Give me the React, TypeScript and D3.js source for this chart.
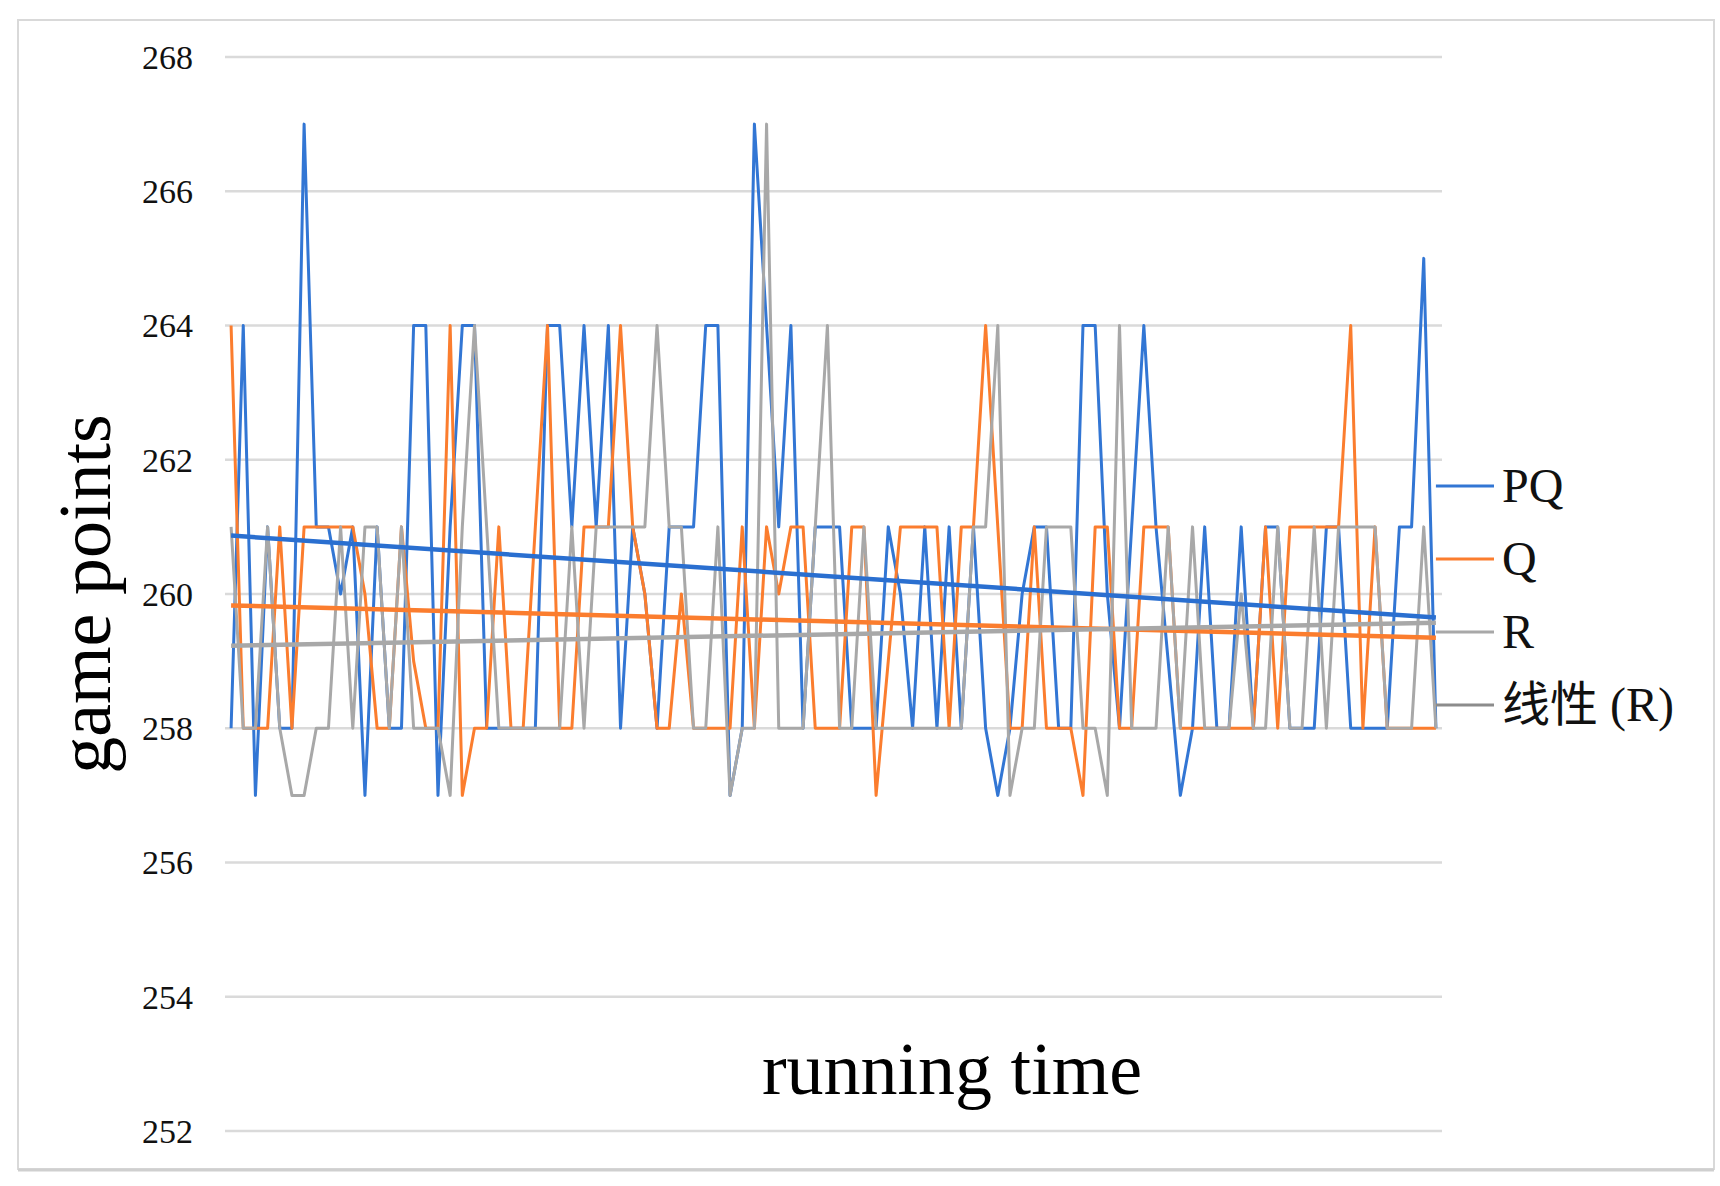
import { useEffect, useRef } from "react";
import * as d3 from "d3";

const yTicks = [252, 254, 256, 258, 260, 262, 264, 266, 268];

const pqValues = [
  258, 264, 257, 261, 258, 258, 267, 261, 261, 260,
  261, 257, 261, 258, 258, 264, 264, 257, 261, 264,
  264, 258, 258, 258, 258, 258, 264, 264, 261, 264,
  261, 264, 258, 261, 260, 258, 261, 261, 261, 264,
  264, 257, 258, 267, 264, 261, 264, 258, 261, 261,
  261, 258, 258, 258, 261, 260, 258, 261, 258, 261,
  258, 261, 258, 257, 258, 260, 261, 261, 258, 258,
  264, 264, 260, 258, 261, 264, 261, 259, 257, 258,
  261, 258, 258, 261, 258, 261, 261, 258, 258, 258,
  261, 261, 258, 258, 258, 258, 261, 261, 265, 258,
];

const qValues = [
  264, 258, 258, 258, 261, 258, 261, 261, 261, 261,
  261, 260, 258, 258, 261, 259, 258, 258, 264, 257,
  258, 258, 261, 258, 258, 261, 264, 258, 258, 261,
  261, 261, 264, 261, 260, 258, 258, 260, 258, 258,
  258, 258, 261, 258, 261, 260, 261, 261, 258, 258,
  258, 261, 261, 257, 259, 261, 261, 261, 261, 258,
  261, 261, 264, 261, 258, 258, 261, 258, 258, 258,
  257, 261, 261, 258, 258, 261, 261, 261, 258, 258,
  258, 258, 258, 258, 258, 261, 258, 261, 261, 261,
  261, 261, 264, 258, 261, 258, 258, 258, 258, 258,
];

const rValues = [
  261, 258, 258, 261, 258, 257, 257, 258, 258, 261,
  258, 261, 261, 258, 261, 258, 258, 258, 257, 261,
  264, 261, 258, 258, 258, 258, 258, 258, 261, 258,
  261, 261, 261, 261, 261, 264, 261, 261, 258, 258,
  261, 257, 258, 258, 267, 258, 258, 258, 261, 264,
  258, 258, 261, 258, 258, 258, 258, 258, 258, 258,
  258, 261, 261, 264, 257, 258, 258, 261, 261, 261,
  258, 258, 257, 264, 258, 258, 258, 261, 258, 261,
  258, 258, 258, 260, 258, 258, 261, 258, 258, 261,
  258, 261, 261, 261, 261, 258, 258, 258, 261, 258,
];

// trendline values at the first and last point
const pqTrend = [260.87, 259.65];
const qTrend = [259.83, 259.35];
const rTrend = [259.23, 259.57];

const legendLabels = ["PQ", "Q", "R", "线性 (R)"];

const BLUE = "#3276d4";
const ORANGE = "#fb7d2e";
const GRAY = "#a8a8a8";
const TREND_GRAY = "#8c8c8c";

export default function App() {
  const svgRef = useRef<SVGSVGElement>(null);

  useEffect(() => {
    if (!svgRef.current) return;
    const svg = d3.select(svgRef.current);
    svg.selectAll("*").remove();

    const width = 1720;
    const height = 1186;
    const plot = { left: 225, right: 1442, top: 57, bottom: 1131 };
    const serif = "'Liberation Serif', 'Times New Roman', 'Noto Sans CJK SC', serif";

    svg.append("rect").attr("width", width).attr("height", height).attr("fill", "#fff");

    // chart frame
    svg
      .append("rect")
      .attr("x", 18)
      .attr("y", 20)
      .attr("width", 1696)
      .attr("height", 1149)
      .attr("fill", "#fff")
      .attr("stroke", "#d9d9d9")
      .attr("stroke-width", 2);
    svg
      .append("line")
      .attr("x1", 18)
      .attr("x2", 1714)
      .attr("y1", 1170)
      .attr("y2", 1170)
      .attr("stroke", "#cfcfcf")
      .attr("stroke-width", 3);

    const xScale = d3
      .scaleBand<number>()
      .domain(d3.range(pqValues.length))
      .range([plot.left, plot.right]);
    const xPos = (i: number) => (xScale(i) ?? 0) + xScale.bandwidth() / 2;

    const yScale = d3.scaleLinear().domain([252, 268]).range([plot.bottom, plot.top]);

    // grid lines
    svg
      .append("g")
      .selectAll("line")
      .data(yTicks)
      .enter()
      .append("line")
      .attr("x1", plot.left)
      .attr("x2", plot.right)
      .attr("y1", (d) => yScale(d))
      .attr("y2", (d) => yScale(d))
      .attr("stroke", "#dadada")
      .attr("stroke-width", 2.5);

    // tick labels
    svg
      .append("g")
      .selectAll("text")
      .data(yTicks)
      .enter()
      .append("text")
      .attr("x", 193)
      .attr("y", (d) => yScale(d))
      .attr("dy", "0.35em")
      .attr("text-anchor", "end")
      .attr("font-family", serif)
      .attr("font-size", 34)
      .attr("fill", "#111")
      .text((d) => d);

    const line = d3
      .line<number>()
      .x((_, i) => xPos(i))
      .y((d) => yScale(d));

    const series = [
      { values: pqValues, color: BLUE },
      { values: qValues, color: ORANGE },
      { values: rValues, color: GRAY },
    ];

    series.forEach((s) => {
      svg
        .append("path")
        .datum(s.values)
        .attr("d", line)
        .attr("fill", "none")
        .attr("stroke", s.color)
        .attr("stroke-width", 3)
        .attr("stroke-linejoin", "round");
    });

    // linear trendlines
    const lastIndex = pqValues.length - 1;
    const trends = [
      { values: pqTrend, color: "#2a6fd0" },
      { values: qTrend, color: ORANGE },
      { values: rTrend, color: GRAY },
    ];
    trends.forEach((t) => {
      svg
        .append("line")
        .attr("x1", xPos(0))
        .attr("x2", xPos(lastIndex))
        .attr("y1", yScale(t.values[0]))
        .attr("y2", yScale(t.values[1]))
        .attr("stroke", t.color)
        .attr("stroke-width", 4.5);
    });

    // series labels with leader lines
    const legendColors = [BLUE, ORANGE, GRAY, TREND_GRAY];
    const legendY = d3.scaleLinear().domain([0, 3]).range([486, 705]);
    const legend = svg
      .append("g")
      .selectAll("g")
      .data(legendLabels)
      .enter()
      .append("g");
    legend
      .append("line")
      .attr("x1", xPos(lastIndex))
      .attr("x2", 1494)
      .attr("y1", (_, i) => legendY(i))
      .attr("y2", (_, i) => legendY(i))
      .attr("stroke", (_, i) => legendColors[i])
      .attr("stroke-width", 3);
    legend
      .append("text")
      .attr("x", 1502)
      .attr("y", (_, i) => legendY(i))
      .attr("dy", "0.33em")
      .attr("font-family", serif)
      .attr("font-size", 48)
      .attr("fill", "#111")
      .text((d) => d);

    // axis titles
    svg
      .append("text")
      .attr("transform", `translate(110, ${(plot.top + plot.bottom) / 2}) rotate(-90)`)
      .attr("text-anchor", "middle")
      .attr("font-family", serif)
      .attr("font-size", 74)
      .attr("fill", "#000")
      .text("game points");

    svg
      .append("text")
      .attr("x", 952)
      .attr("y", 1094)
      .attr("text-anchor", "middle")
      .attr("font-family", serif)
      .attr("font-size", 74)
      .attr("fill", "#000")
      .text("running time");
  }, []);

  return (
    <svg
      ref={svgRef}
      width={1720}
      height={1186}
      style={{ position: "absolute", left: 0, top: 0, display: "block" }}
    />
  );
}
